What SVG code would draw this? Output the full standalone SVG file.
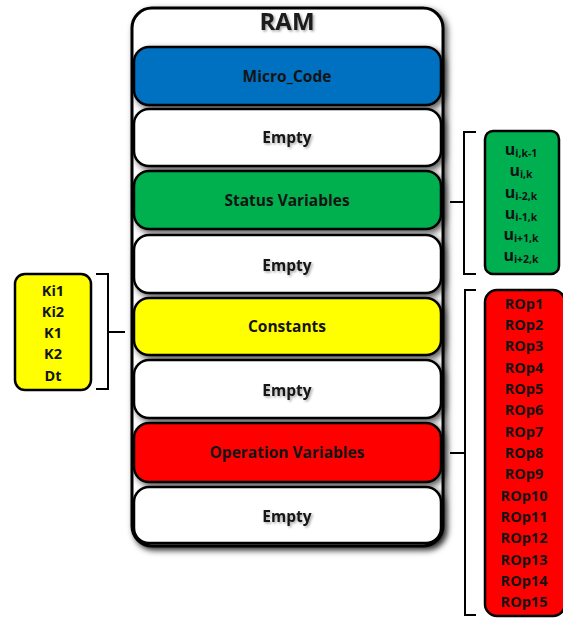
<svg xmlns="http://www.w3.org/2000/svg" width="563" height="618" viewBox="0 0 563 618">
  <style>
    .frame { fill: #ffffff; stroke: #000000; stroke-width: 3; }
    .row { stroke: #000000; stroke-width: 2.5; }
    .list { stroke: #000000; stroke-width: 2.5; }
    .lbl { font-family: "Open Sans", "Liberation Sans", sans-serif; font-weight: bold; font-size: 15.5px; fill: #141414; text-anchor: middle; }
    .item { font-family: "Open Sans", "Liberation Sans", sans-serif; font-weight: bold; font-size: 14.5px; fill: #141414; text-anchor: middle; }
    .u { font-size: 16px; }
    .sub { font-size: 10.5px; }
    .title { font-family: "Open Sans", "Liberation Sans", sans-serif; font-weight: bold; font-size: 24px; fill: #1a1a1a; text-anchor: middle; }
    .brace { fill: none; stroke: #000000; stroke-width: 2; }
  </style>
  <defs>
    <filter id="shadow" x="-10%" y="-20%" width="125%" height="150%">
      <feDropShadow dx="3" dy="3" stdDeviation="3" flood-color="#000000" flood-opacity="0.65"/>
    </filter>
    <filter id="tshadow" x="-10%" y="-30%" width="130%" height="170%">
      <feDropShadow dx="1.5" dy="1.5" stdDeviation="1" flood-color="#000000" flood-opacity="0.35"/>
    </filter>
  </defs>

  <!-- RAM container -->
  <g id="ram">
    <rect class="frame" x="132" y="8" width="311" height="538" rx="20" filter="url(#shadow)"/>
    <text class="title" x="287" y="30" filter="url(#tshadow)">RAM</text>
  </g>

  <!-- memory segments -->
  <g id="micro_code">
    <rect class="row" x="134" y="47" width="307" height="58" rx="15" fill="#0070C0" filter="url(#shadow)"/>
    <text class="lbl" x="287" y="82">Micro_Code</text>
  </g>
  <g id="empty1">
    <rect class="row" x="134" y="109" width="307" height="57" rx="15" fill="#ffffff" filter="url(#shadow)"/>
    <text class="lbl" x="287" y="143" filter="url(#tshadow)">Empty</text>
  </g>
  <g id="status_variables">
    <rect class="row" x="134" y="171" width="307" height="58" rx="15" fill="#00B050" filter="url(#shadow)"/>
    <text class="lbl" x="287" y="206">Status Variables</text>
  </g>
  <g id="empty2">
    <rect class="row" x="134" y="235" width="307" height="58" rx="15" fill="#ffffff" filter="url(#shadow)"/>
    <text class="lbl" x="287" y="271" filter="url(#tshadow)">Empty</text>
  </g>
  <g id="constants">
    <rect class="row" x="134" y="298" width="307" height="57" rx="15" fill="#FFFF00" filter="url(#shadow)"/>
    <text class="lbl" x="287" y="332">Constants</text>
  </g>
  <g id="empty3">
    <rect class="row" x="134" y="360" width="307" height="58" rx="15" fill="#ffffff" filter="url(#shadow)"/>
    <text class="lbl" x="287" y="396" filter="url(#tshadow)">Empty</text>
  </g>
  <g id="operation_variables">
    <rect class="row" x="134" y="423" width="307" height="59" rx="15" fill="#FF0000" filter="url(#shadow)"/>
    <text class="lbl" x="287" y="458">Operation Variables</text>
  </g>
  <g id="empty4">
    <rect class="row" x="134" y="487" width="307" height="56" rx="15" fill="#ffffff" filter="url(#shadow)"/>
    <text class="lbl" x="287" y="522" filter="url(#tshadow)">Empty</text>
  </g>

  <!-- detail lists -->
  <g id="status_list">
    <rect class="list" x="485" y="131" width="74" height="143" rx="8" fill="#00B050"/>
    <text class="item" x="521" y="155"><tspan class="u">u</tspan><tspan class="sub" dy="2">i,k-1</tspan></text>
    <text class="item" x="521" y="176"><tspan class="u">u</tspan><tspan class="sub" dy="2">i,k</tspan></text>
    <text class="item" x="521" y="198"><tspan class="u">u</tspan><tspan class="sub" dy="2">i-2,k</tspan></text>
    <text class="item" x="521" y="219"><tspan class="u">u</tspan><tspan class="sub" dy="2">i-1,k</tspan></text>
    <text class="item" x="521" y="240"><tspan class="u">u</tspan><tspan class="sub" dy="2">i+1,k</tspan></text>
    <text class="item" x="521" y="261"><tspan class="u">u</tspan><tspan class="sub" dy="2">i+2,k</tspan></text>
  </g>

  <g id="constants_list">
    <rect class="list" x="15" y="274" width="76" height="116" rx="10" fill="#FFFF00"/>
    <text class="item" x="53" y="296">Ki1</text>
    <text class="item" x="53" y="317">Ki2</text>
    <text class="item" x="53" y="338">K1</text>
    <text class="item" x="53" y="359">K2</text>
    <text class="item" x="53" y="381">Dt</text>
  </g>

  <g id="operation_list">
    <rect class="list" x="485" y="290" width="80" height="326" rx="12" fill="#FF0000"/>
    <text class="item" x="524" y="309">ROp1</text>
    <text class="item" x="524" y="330">ROp2</text>
    <text class="item" x="524" y="351">ROp3</text>
    <text class="item" x="524" y="373">ROp4</text>
    <text class="item" x="524" y="394">ROp5</text>
    <text class="item" x="524" y="415">ROp6</text>
    <text class="item" x="524" y="437">ROp7</text>
    <text class="item" x="524" y="458">ROp8</text>
    <text class="item" x="524" y="479">ROp9</text>
    <text class="item" x="524" y="501">ROp10</text>
    <text class="item" x="524" y="522">ROp11</text>
    <text class="item" x="524" y="543">ROp12</text>
    <text class="item" x="524" y="565">ROp13</text>
    <text class="item" x="524" y="586">ROp14</text>
    <text class="item" x="524" y="607">ROp15</text>
  </g>

  <!-- connectors: brackets tying lists to segments -->
  <g id="connectors">
    <path class="brace" d="M476 132 H464 V274 H476 M464 202 H450"/>
    <path class="brace" d="M96 274 H108 V389 H96 M108 332 H125"/>
    <path class="brace" d="M476 290 H465 V615 H476 M465 453 H450"/>
  </g>
</svg>
